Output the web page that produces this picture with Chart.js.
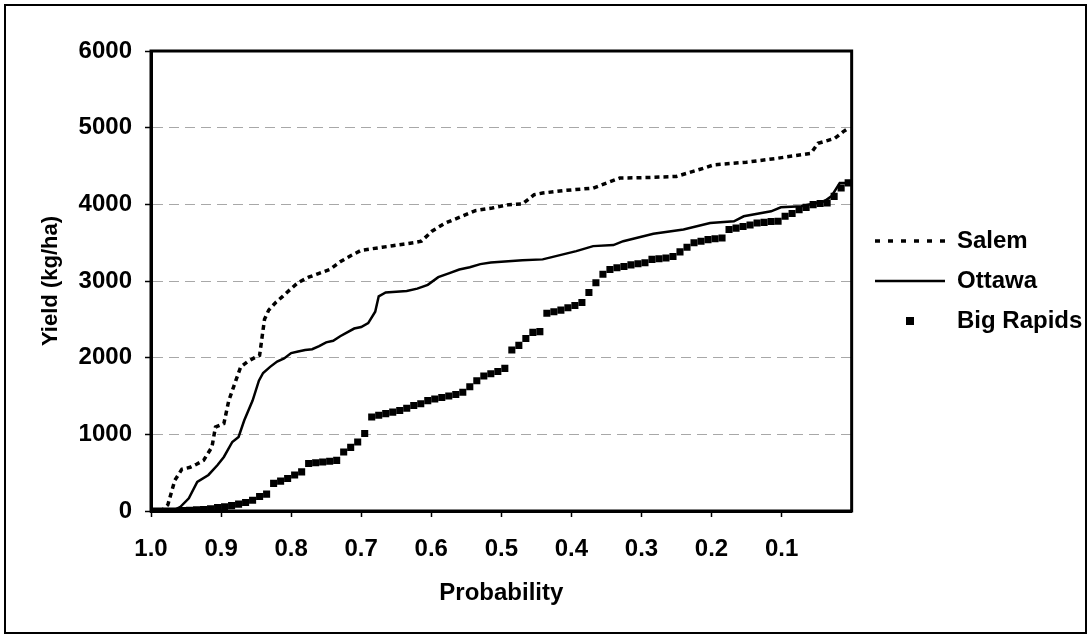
<!DOCTYPE html>
<html>
<head>
<meta charset="utf-8">
<title>Yield probability</title>
<script src="https://cdn.jsdelivr.net/npm/chart.js@4.4.1/dist/chart.umd.min.js"></script>
<style>
  html, body { margin: 0; padding: 0; background: #fff; }
  #wrap { position: relative; width: 1091px; height: 638px; }
  #wrap canvas { position: absolute; left: 0; top: 0; }
  #frame { position: absolute; left: 4px; top: 4px; right: 4px; bottom: 4px; border: 2px solid #000; pointer-events: none; }
</style>
</head>
<body>
<div id="wrap">
  <canvas id="yieldChart" width="1091" height="638"></canvas>
  <div id="frame"></div>
</div>
<script>
// exceedance probability (x) and yield in kg/ha (y) for each site
const salemProb = [1.0, 0.985, 0.976, 0.966, 0.956, 0.944, 0.935, 0.925, 0.913, 0.908, 0.896, 0.889, 0.879, 0.872, 0.862, 0.852, 0.845, 0.838, 0.832, 0.822, 0.812, 0.8, 0.79, 0.775, 0.76, 0.745, 0.73, 0.715, 0.7, 0.685, 0.67, 0.655, 0.64, 0.625, 0.614, 0.599, 0.58, 0.556, 0.537, 0.513, 0.489, 0.47, 0.453, 0.441, 0.41, 0.369, 0.331, 0.29, 0.25, 0.211, 0.197, 0.15, 0.106, 0.058, 0.048, 0.024, 0.012, 0.005];
const salemYield = [0, 0, 80, 400, 545, 570, 610, 660, 835, 1095, 1140, 1440, 1700, 1880, 1950, 2000, 2030, 2500, 2620, 2720, 2800, 2900, 2980, 3050, 3100, 3150, 3250, 3330, 3400, 3420, 3440, 3460, 3480, 3500, 3520, 3650, 3757, 3844, 3918, 3952, 3996, 4004, 4126, 4147, 4180, 4212, 4342, 4350, 4364, 4472, 4515, 4550, 4601, 4666, 4796, 4861, 4948, 4990];

const ottawaProb = [1.0, 0.97, 0.958, 0.946, 0.934, 0.918, 0.905, 0.896, 0.884, 0.875, 0.867, 0.855, 0.846, 0.84, 0.83, 0.82, 0.81, 0.8, 0.79, 0.78, 0.77, 0.76, 0.75, 0.74, 0.73, 0.72, 0.71, 0.7, 0.69, 0.68, 0.675, 0.665, 0.65, 0.635, 0.62, 0.605, 0.59, 0.575, 0.56, 0.545, 0.53, 0.515, 0.5, 0.47, 0.441, 0.393, 0.369, 0.34, 0.326, 0.283, 0.24, 0.202, 0.168, 0.154, 0.115, 0.101, 0.072, 0.039, 0.029, 0.017, 0.005];
const ottawaYield = [0, 0, 55, 165, 380, 470, 600, 705, 900, 965, 1180, 1440, 1700, 1800, 1880, 1950, 1990, 2060, 2080, 2100, 2110, 2150, 2200, 2220, 2280, 2330, 2380, 2400, 2450, 2600, 2800, 2850, 2860, 2870, 2900, 2950, 3050, 3100, 3150, 3180, 3220, 3240, 3250, 3270, 3282, 3390, 3455, 3468, 3519, 3615, 3671, 3757, 3779, 3844, 3909, 3961, 3974, 4039, 4104, 4277, 4277];

const rapidsProb = [0.995, 0.985, 0.975, 0.965, 0.955, 0.945, 0.935, 0.925, 0.915, 0.905, 0.895, 0.885, 0.875, 0.865, 0.855, 0.845, 0.835, 0.825, 0.815, 0.805, 0.795, 0.785, 0.775, 0.765, 0.755, 0.745, 0.735, 0.725, 0.715, 0.705, 0.695, 0.685, 0.675, 0.665, 0.655, 0.645, 0.635, 0.625, 0.615, 0.605, 0.595, 0.585, 0.575, 0.565, 0.555, 0.545, 0.535, 0.525, 0.515, 0.505, 0.495, 0.485, 0.475, 0.465, 0.455, 0.445, 0.435, 0.425, 0.415, 0.405, 0.395, 0.385, 0.375, 0.365, 0.355, 0.345, 0.335, 0.325, 0.315, 0.305, 0.295, 0.285, 0.275, 0.265, 0.255, 0.245, 0.235, 0.225, 0.215, 0.205, 0.195, 0.185, 0.175, 0.165, 0.155, 0.145, 0.135, 0.125, 0.115, 0.105, 0.095, 0.085, 0.075, 0.065, 0.055, 0.045, 0.035, 0.025, 0.015, 0.005];
const rapidsYield = [0, 0, 0, 0, 5, 10, 15, 20, 30, 45, 55, 70, 90, 110, 140, 190, 220, 360, 390, 425, 470, 510, 620, 630, 640, 650, 660, 770, 830, 900, 1010, 1225, 1250, 1270, 1290, 1310, 1340, 1375, 1400, 1440, 1460, 1480, 1500, 1520, 1550, 1620, 1700, 1760, 1790, 1820, 1860, 2100, 2160, 2250, 2330, 2340, 2580, 2600, 2620, 2650, 2680, 2720, 2850, 2978, 3087, 3150, 3173, 3190, 3210, 3225, 3238, 3282, 3290, 3300, 3320, 3380, 3440, 3500, 3519, 3540, 3550, 3562, 3671, 3690, 3710, 3730, 3757, 3765, 3775, 3779, 3844, 3880, 3931, 3960, 3996, 4010, 4017, 4104, 4212, 4280];

const probTicks = [1.0, 0.9, 0.8, 0.7, 0.6, 0.5, 0.4, 0.3, 0.2, 0.1];
const yieldTicks = [0, 1000, 2000, 3000, 4000, 5000, 6000];

const FONT = "'Liberation Sans', Arial, Helvetica, sans-serif";
Chart.defaults.font.family = FONT;
Chart.defaults.font.weight = 'bold';
Chart.defaults.color = '#000';

function toPoints(xs, ys) {
  return xs.map((x, i) => ({ x: x, y: ys[i] }));
}

// small filled square for the Big Rapids legend entry
const squareIcon = document.createElement('canvas');
squareIcon.width = 8;
squareIcon.height = 8;
squareIcon.getContext('2d').fillRect(0, 0, 8, 8);

// box around the plotting area
const plotFrame = {
  id: 'plotFrame',
  afterDraw(chart) {
    const { ctx, chartArea: a } = chart;
    ctx.save();
    ctx.strokeStyle = '#000';
    ctx.lineWidth = 3;
    ctx.strokeRect(a.left, a.top, a.right - a.left, a.bottom - a.top);
    ctx.restore();
  }
};

// legend column: small gap after the plot, vertically centred on the plot
const LEGEND_LEFT = 859;
const legendPlace = {
  id: 'legendPlace',
  afterLayout(chart) {
    const lg = chart.legend;
    const w = lg.right - lg.left;
    lg.left = LEGEND_LEFT;
    lg.right = LEGEND_LEFT + w;
    lg.top = chart.chartArea.top;
    lg.bottom = chart.chartArea.bottom;
    lg.height = lg.bottom - lg.top;
  }
};

new Chart(document.getElementById('yieldChart'), {
  type: 'scatter',
  data: {
    datasets: [
      {
        label: 'Salem',
        data: toPoints(salemProb, salemYield),
        showLine: true,
        borderColor: '#000',
        borderWidth: 3.5,
        borderDash: [5, 4],
        pointRadius: 0,
        tension: 0
      },
      {
        label: 'Ottawa',
        data: toPoints(ottawaProb, ottawaYield),
        showLine: true,
        borderColor: '#000',
        borderWidth: 2.5,
        pointRadius: 0,
        tension: 0
      },
      {
        label: 'Big Rapids',
        data: toPoints(rapidsProb, rapidsYield),
        showLine: false,
        pointStyle: 'rect',
        pointRadius: 5,
        backgroundColor: '#000',
        borderColor: '#000',
        borderWidth: 0
      }
    ]
  },
  options: {
    responsive: false,
    animation: false,
    devicePixelRatio: 1,
    layout: { padding: { top: 51, right: 6, bottom: 0, left: 0 } },
    scales: {
      x: {
        type: 'linear',
        reverse: true,
        min: 0,
        max: 1,
        afterBuildTicks: s => { s.ticks = probTicks.map(v => ({ value: v })); },
        afterFit: s => { s.height = 127; },
        ticks: {
          font: { size: 24, weight: 'bold' },
          color: '#000',
          padding: 18,
          maxRotation: 0,
          autoSkip: false,
          callback: v => v.toFixed(1)
        },
        grid: { drawOnChartArea: false, drawTicks: true, tickLength: 6, tickColor: '#000', tickWidth: 1.5 },
        border: { display: true, color: '#000', width: 3 },
        title: {
          display: true,
          text: 'Probability',
          font: { size: 24, weight: 'bold' },
          color: '#000',
          padding: { top: 0, bottom: 30 }
        }
      },
      y: {
        min: 0,
        max: 6000,
        afterBuildTicks: s => { s.ticks = yieldTicks.map(v => ({ value: v })); },
        afterFit: s => { s.width = 151; },
        ticks: {
          font: { size: 24, weight: 'bold' },
          color: '#000',
          padding: 13,
          callback: v => String(v)
        },
        grid: { color: '#a8a8a8', lineWidth: 1, tickLength: 6, tickColor: '#000', tickWidth: 1.5 },
        border: { display: true, color: '#000', width: 3, dash: [10, 6] },
        title: {
          display: true,
          text: 'Yield (kg/ha)',
          font: { size: 22, weight: 'bold' },
          color: '#000',
          padding: { top: 38, bottom: 0 }
        }
      }
    },
    plugins: {
      tooltip: { enabled: false },
      legend: {
        position: 'right',
        labels: {
          usePointStyle: true,
          pointStyleWidth: 70,
          boxHeight: 8,
          padding: 16,
          color: '#000',
          font: { size: 24, weight: 'bold' },
          generateLabels(chart) {
            const items = Chart.defaults.plugins.legend.labels.generateLabels(chart);
            items.forEach((item, i) => {
              const ds = chart.data.datasets[i];
              if (ds.showLine) {
                item.pointStyle = 'line';
                item.strokeStyle = ds.borderColor;
                item.lineWidth = ds.borderWidth;
                item.lineDash = ds.borderDash ? [5, 8] : [];
                item.lineCap = 'butt';
              } else {
                item.pointStyle = squareIcon;
              }
            });
            return items;
          }
        }
      }
    }
  },
  plugins: [plotFrame, legendPlace]
});
</script>
</body>
</html>
